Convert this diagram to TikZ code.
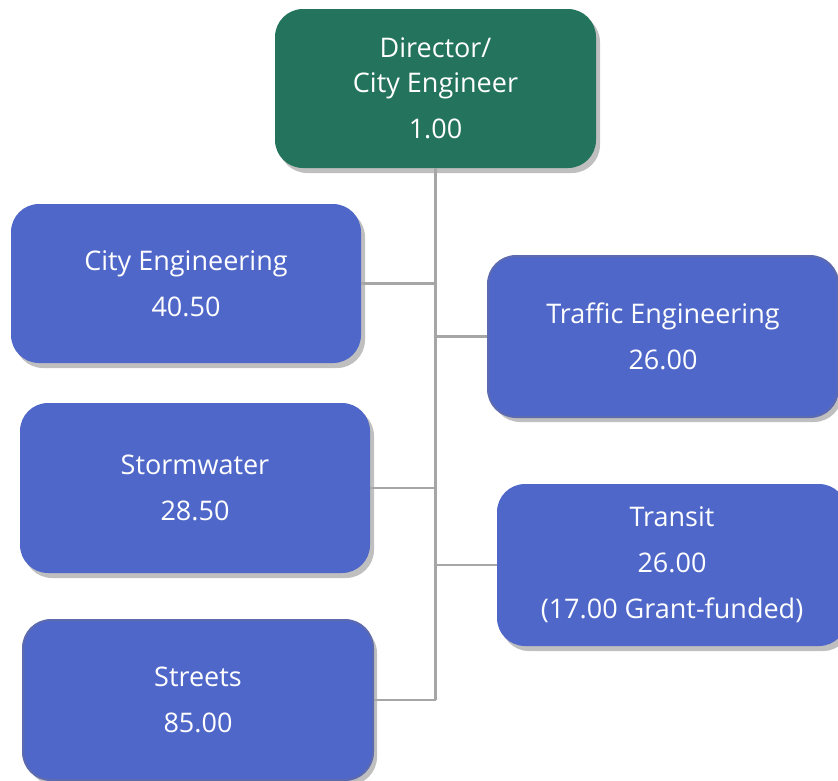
\documentclass[tikz,border=0pt]{standalone}
\usepackage{fontspec}
\setmainfont{Open Sans}
\usepackage{xcolor}
\usetikzlibrary{shadows}
\definecolor{headgreen}{RGB}{36,115,92}
\definecolor{deptblue}{RGB}{79,103,200}
\definecolor{deptedge}{RGB}{92,106,176}
\definecolor{linkgray}{RGB}{166,166,166}

\begin{document}
\begin{tikzpicture}[x=1pt, y=1pt,
  box/.style={rectangle, fill=deptblue, text=white, align=center, rounded corners=28pt, inner sep=0pt, minimum width=350pt, minimum height=160pt, font=\fontsize{27}{46}\selectfont, drop shadow={shadow xshift=4pt, shadow yshift=-5pt, opacity=0.25, fill=black}},
  head/.style={box, fill=headgreen, minimum width=321pt, minimum height=159pt},
  edged/.style={draw=deptedge, line width=2pt},
  link/.style={draw=linkgray, line width=2.5pt}]

\useasboundingbox (0,0) rectangle (838,-780);

\node[head] (director) at (435.5,-88.5) {Director/\\[-11pt]City Engineer\\1.00};
\node[box, minimum height=159pt] (cityeng) at (186,-283.5) {City Engineering\\40.50};
\node[box, edged, minimum height=161pt] (traffic) at (663,-336.5) {Traffic Engineering\\26.00};
\node[box, minimum height=170pt] (storm) at (195,-488) {Stormwater\\28.50};
\node[box, minimum height=162pt] (transit) at (672,-565) {Transit\\26.00\\(17.00 Grant-funded)};
\node[box, edged, minimum height=160pt] (streets) at (198,-700) {Streets\\85.00};

\draw[link] (director.south) -- (streets.east -| director.south);
\draw[link] (cityeng.east) -- (cityeng.east -| director.south);
\draw[link] (traffic.west) -- (traffic.west -| director.south);
\draw[link] (storm.east) -- (storm.east -| director.south);
\draw[link] (transit.west) -- (transit.west -| director.south);
\draw[link] (streets.east) -- (streets.east -| director.south);
\end{tikzpicture}
\end{document}
